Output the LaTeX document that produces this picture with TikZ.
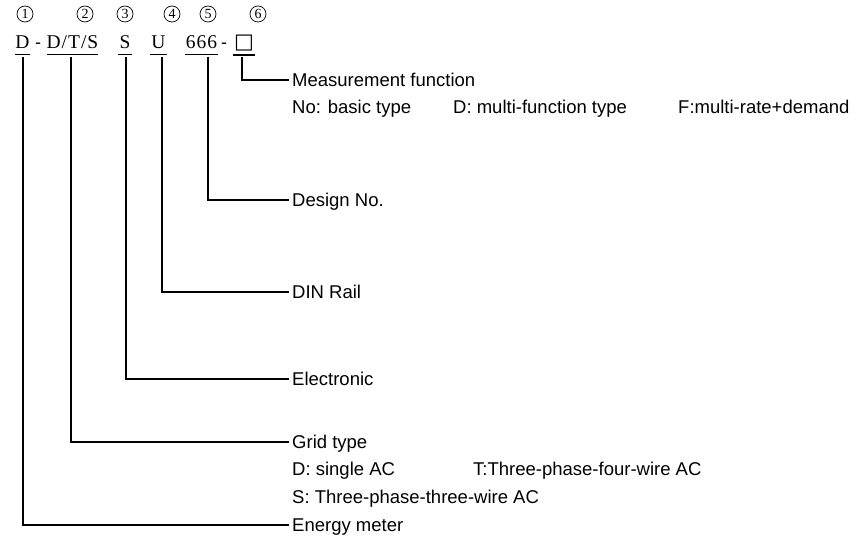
\documentclass[tikz,border=0pt]{standalone}
\usepackage{fontspec}
\setmainfont{Liberation Sans}
\newfontfamily\codefont[LetterSpace=5]{Liberation Serif}
\newfontfamily\numfont{Liberation Serif}
\newfontfamily\symfont{DejaVu Sans}
\tikzset{
  posnum/.style={circle,draw,line width=0.7pt,minimum size=16pt,inner sep=0pt,font=\numfont\fontsize{14}{14}\selectfont},
  code/.style={font=\codefont\fontsize{19.5}{19.5}\selectfont,inner sep=0pt,anchor=base},
  desc/.style={font=\fontsize{18.5}{20}\selectfont,anchor=west,inner xsep=3pt,inner ysep=0pt,text height=13pt,text depth=0pt},
  uline/.style={line width=1pt},
  lead/.style={line width=1.5pt}
}
\begin{document}
\begin{tikzpicture}[x=1pt,y=-1pt]
\def\tx{289}   % where the descriptions start
\def\cy{49}    % baseline of the model code
\useasboundingbox (0,0) rectangle (864,545);
% circled field numbers
\foreach \n/\x in {1/25,2/85,3/125,4/172,5/208,6/258}{\node[posnum] (n\n) at (\x,14) {\n};}
% the model code, one node per field
\node[code,minimum width=15] (fMeter) at (22.5,\cy) {D};
\node[code,font=\fontsize{18}{18}\selectfont] (dashA) at (38,\cy) {-};
\node[code,minimum width=51] (fGrid) at (72.5,\cy) {D/T/S};
\node[code,minimum width=14] (fElec) at (125,\cy) {S};
\node[code,minimum width=17] (fRail) at (158.5,\cy) {U};
\node[code,minimum width=33] (fDesign) at (201.5,\cy) {666};
\node[code,font=\fontsize{18}{18}\selectfont] (dashB) at (224,\cy) {-};
\node[code,font=\symfont\fontsize{21}{21}\selectfont,minimum width=22] (fFunc) at (244,\cy) {□};
\foreach \f in {fMeter,fGrid,fElec,fRail,fDesign}{\draw[uline] ([yshift=-6]\f.base west) -- ([yshift=-6]\f.base east);}
\draw[uline,line width=2pt] ([yshift=-6]fFunc.base west) -- ([yshift=-6]fFunc.base east);
% descriptions
\node[desc] (dFunc) at (\tx,80) {Measurement function};
\node[desc] (oFuncA) at (\tx,107) {No: basic type};
\node[desc] (oFuncB) at (450,107) {D: multi-function type};
\node[desc] (oFuncC) at (675,107) {F:multi-rate+demand};
\node[desc] (dDesign) at (\tx,200) {Design No.};
\node[desc] (dRail) at (\tx,292) {DIN Rail};
\node[desc] (dElec) at (\tx,379) {Electronic};
\node[desc] (dGrid) at (\tx,442) {Grid type};
\node[desc] (oGridA) at (\tx,469) {D: single AC};
\node[desc] (oGridB) at (470,469) {T:Three-phase-four-wire AC};
\node[desc] (oGridC) at (\tx,497) {S: Three-phase-three-wire AC};
\node[desc] (dMeter) at (\tx,525) {Energy meter};
% leaders from each field down to its description
\draw[lead] ([xshift=-2,yshift=-8]fFunc.base) |- (dFunc.west);
\draw[lead] ([xshift=6.5,yshift=-8]fDesign.base) |- (dDesign.west);
\draw[lead] ([xshift=3.5,yshift=-8]fRail.base) |- (dRail.west);
\draw[lead] ([xshift=1,yshift=-8]fElec.base) |- (dElec.west);
\draw[lead] ([xshift=-1.5,yshift=-8]fGrid.base) |- (dGrid.west);
\draw[lead] ([xshift=0.5,yshift=-8]fMeter.base) |- (dMeter.west);
\end{tikzpicture}
\end{document}
